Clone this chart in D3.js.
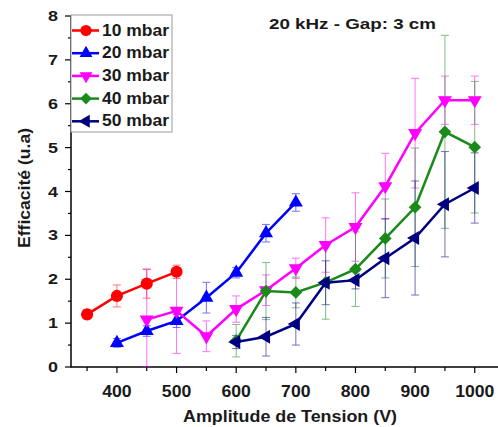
<!DOCTYPE html>
<html><head><meta charset="utf-8">
<script src="https://cdn.jsdelivr.net/npm/d3@7"></script>
<style>body{margin:0;background:#fff}svg text{font-family:"Liberation Sans",Arial,sans-serif;font-weight:bold}</style>
</head><body><svg id="c" width="498" height="427"></svg>
<script>
const seriesNames = ["10 mbar","20 mbar","30 mbar","40 mbar","50 mbar"];
const volts10 = [350,400,450,500];
const eff10 = [1.2,1.62,1.9,2.17];
const err10 = [0.1,0.25,0.33,0.15];
const volts20 = [400,450,500,550,600,650,700];
const eff20 = [0.55,0.82,1.05,1.58,2.15,3.05,3.75];
const err20 = [0.1,0.12,0.15,0.35,0.12,0.2,0.2];
const volts30 = [450,500,550,600,650,700,750,800,850,900,950,1000];
const eff30 = [1.08,1.28,0.7,1.32,1.75,2.25,2.78,3.19,4.12,5.33,6.08,6.08];
const err30 = [1.15,0.97,0.35,0.3,0.35,0.23,0.62,0.78,0.75,1.25,0.55,0.55];
const volts40 = [600,650,700,750,800,850,900,950,1000];
const eff40 = [0.6,1.73,1.7,1.93,2.23,2.93,3.64,5.36,5.01];
const err40 = [0.37,0.65,0.35,0.84,0.85,0.9,1.35,2.2,1.5];
const volts50 = [600,650,700,750,800,850,900,950,1000];
const eff50 = [0.57,0.69,0.98,1.92,1.98,2.48,2.94,3.71,4.08];
const err50 = [0.15,0.44,0.48,0.5,0.2,0.9,1.3,1.2,0.8];
const xTicks = [400,500,600,700,800,900,1000];
const yTicks = [0,1,2,3,4,5,6,7,8];

const colors = ["#ff0000","#0000ff","#ff00ff","#1a8a1a","#000080"];
// [symbol type, rotation, size]
const shapes = [[d3.symbolCircle,0,115],[d3.symbolTriangle,0,85],[d3.symbolTriangle,180,85],[d3.symbolSquare,45,80],[d3.symbolTriangle,-90,85]];
const series = [[volts10,eff10,err10],[volts20,eff20,err20],[volts30,eff30,err30],[volts40,eff40,err40],[volts50,eff50,err50]]
  .map((s,i)=>({name:seriesNames[i],color:colors[i],shape:shapes[i],pts:s[0].map((v,j)=>({x:v,y:s[1][j],e:s[2][j]}))}));

const svg = d3.select("#c");
const x = d3.scaleLinear().domain([323,1039]).range([71,498]);
const y = d3.scaleLinear().domain([0,8]).range([367,16]);
const ink = "#1a1a1a";

// axes
const xMinor = d3.range(350,1001,50);
const gx = svg.append("g").attr("transform","translate(0,367)");
gx.append("line").attr("x1",71).attr("x2",498).attr("stroke","#000").attr("stroke-width",1.5);
gx.selectAll("line.t").data(xMinor).join("line").attr("class","t")
  .attr("x1",d=>x(d)).attr("x2",d=>x(d)).attr("y1",0).attr("y2",d=>d%100===0?6:4).attr("stroke","#000").attr("stroke-width",1.2);
gx.selectAll("text").data(xTicks).join("text").attr("x",d=>x(d)).attr("y",30)
  .attr("text-anchor","middle").attr("font-size",16.5).attr("fill",ink)
  .attr("textLength",d=>String(d).length*9.8).attr("lengthAdjust","spacingAndGlyphs").text(d=>d);

const yMinor = d3.range(0,8.01,0.5);
const gy = svg.append("g").attr("transform","translate(71,0)");
gy.append("line").attr("y1",367.5).attr("y2",16).attr("stroke","#000").attr("stroke-width",1.5);
gy.selectAll("line.t").data(yMinor).join("line").attr("class","t")
  .attr("y1",d=>y(d)).attr("y2",d=>y(d)).attr("x1",0).attr("x2",d=>d%1===0?-6:-3).attr("stroke","#000").attr("stroke-width",1.2);
gy.selectAll("text").data(yTicks).join("text").attr("x",-13).attr("y",d=>y(d)+5)
  .attr("text-anchor","end").attr("font-size",14.5).attr("fill",ink)
  .attr("textLength",10).attr("lengthAdjust","spacingAndGlyphs").text(d=>d);

svg.append("text").attr("transform","translate(30,188) rotate(-90)").attr("text-anchor","middle")
  .attr("font-size",17).attr("fill",ink).attr("textLength",120).attr("lengthAdjust","spacingAndGlyphs")
  .text("Efficacité (u.a)");
svg.append("text").attr("x",290).attr("y",422).attr("text-anchor","middle")
  .attr("font-size",17).attr("fill",ink).attr("textLength",214).attr("lengthAdjust","spacingAndGlyphs")
  .text("Amplitude de Tension (V)");
svg.append("text").attr("x",352.5).attr("y",29).attr("text-anchor","middle")
  .attr("font-size",15.5).attr("fill",ink).attr("textLength",167).attr("lengthAdjust","spacingAndGlyphs")
  .text("20 kHz - Gap: 3 cm");

// error bars
series.forEach(s=>{
  const g = svg.append("g").attr("stroke",s.color).attr("stroke-width",1).attr("opacity",0.55);
  s.pts.forEach(p=>{
    const lo = Math.max(0,p.y-p.e), hi = p.y+p.e;
    g.append("line").attr("x1",x(p.x)).attr("x2",x(p.x)).attr("y1",y(lo)).attr("y2",y(hi));
    [lo,hi].forEach(v=>g.append("line").attr("x1",x(p.x)-4).attr("x2",x(p.x)+4).attr("y1",y(v)).attr("y2",y(v)));
  });
});
// lines and markers
const line = d3.line().x(d=>x(d.x)).y(d=>y(d.y));
series.forEach(s=>{
  svg.append("path").datum(s.pts).attr("d",line).attr("fill","none").attr("stroke",s.color).attr("stroke-width",2.5);
  const sym = d3.symbol().type(s.shape[0]).size(s.shape[2]);
  svg.append("g").selectAll("path").data(s.pts).join("path")
    .attr("transform",d=>`translate(${x(d.x)},${y(d.y)}) rotate(${s.shape[1]})`)
    .attr("d",sym).attr("fill",s.color);
});

// legend
const lg = svg.append("g");
lg.append("rect").attr("x",71).attr("y",15).attr("width",101).attr("height",117)
  .attr("fill","#fff").attr("stroke","#999").attr("stroke-width",1);
series.forEach((s,i)=>{
  const yy = 30.5 + i*22.7;
  lg.append("line").attr("x1",72).attr("x2",99).attr("y1",yy).attr("y2",yy).attr("stroke",s.color).attr("stroke-width",2.5);
  lg.append("path").attr("transform",`translate(86,${yy}) rotate(${s.shape[1]})`)
    .attr("d",d3.symbol().type(s.shape[0]).size(s.shape[2]*0.85)).attr("fill",s.color);
  lg.append("text").attr("x",102).attr("y",yy+5).attr("font-size",16.5).attr("fill",ink)
    .attr("textLength",67).attr("lengthAdjust","spacingAndGlyphs").text(s.name);
});
</script></body></html>
